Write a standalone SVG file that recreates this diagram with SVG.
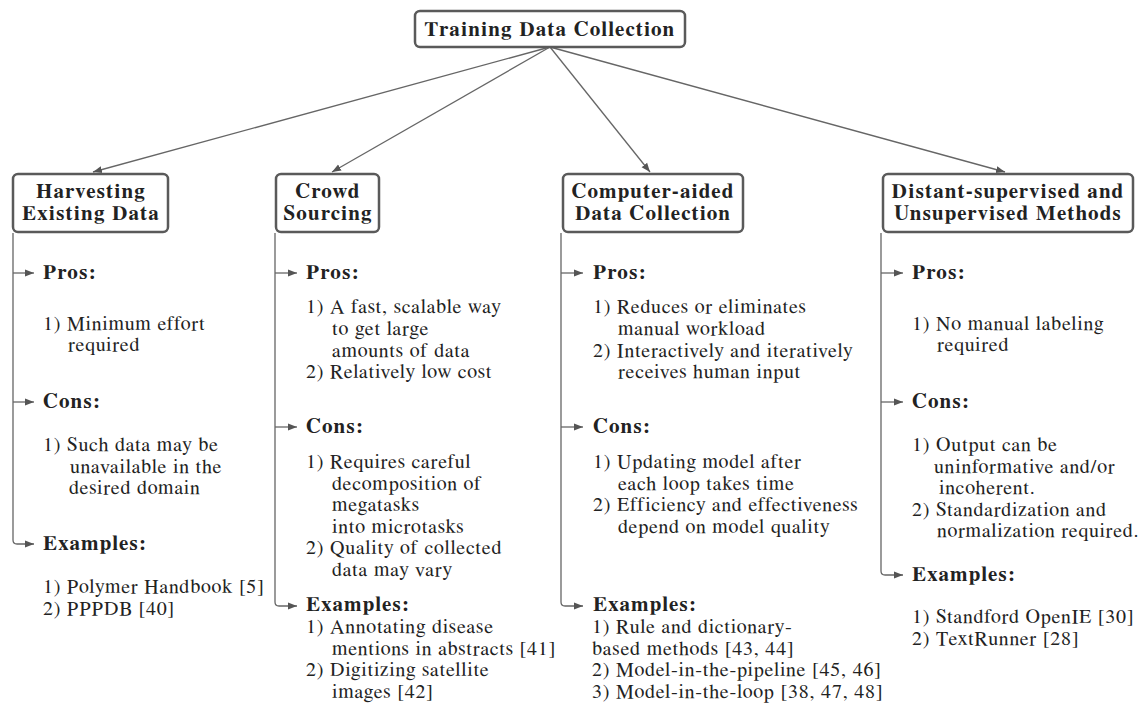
<svg xmlns="http://www.w3.org/2000/svg" width="1146" height="720" viewBox="0 0 1146 720">
<defs>
<style>
text{font-family:"FreeSerif","Nimbus Roman","Nimbus Roman No9 L","Liberation Serif",serif;fill:#222}
.box{fill:#fff;stroke:#5a5a5a;stroke-width:2.5}
.ttl{font-weight:bold;font-size:21px;letter-spacing:1.2px;text-anchor:middle}
.hd{font-weight:bold;font-size:21px;letter-spacing:1.2px}
.tx{font-size:20px;letter-spacing:0.8px}
.ln{fill:none;stroke:#666;stroke-width:1.3}
</style>
<marker id="ah" markerUnits="userSpaceOnUse" markerWidth="10" markerHeight="8" refX="9" refY="4" orient="auto">
<path d="M0,0.5 L9,4 L0,7.5 z" fill="#555"/>
</marker>
</defs>
<rect width="1146" height="720" fill="#fff"/>

<g id="connectors">
<line class="ln" x1="550" y1="47" x2="93" y2="172" marker-end="url(#ah)"/>
<line class="ln" x1="550" y1="47" x2="332" y2="172" marker-end="url(#ah)"/>
<line class="ln" x1="550" y1="47" x2="650" y2="172" marker-end="url(#ah)"/>
<line class="ln" x1="550" y1="47" x2="1005" y2="172" marker-end="url(#ah)"/>
<path class="ln" d="M13,233 V540 Q13,544 17,544 H34" marker-end="url(#ah)"/>
<line class="ln" x1="13" y1="273" x2="34" y2="273" marker-end="url(#ah)"/>
<line class="ln" x1="13" y1="402" x2="34" y2="402" marker-end="url(#ah)"/>
<path class="ln" d="M275,233 V602 Q275,606 279,606 H297" marker-end="url(#ah)"/>
<line class="ln" x1="275" y1="273" x2="297" y2="273" marker-end="url(#ah)"/>
<line class="ln" x1="275" y1="427" x2="297" y2="427" marker-end="url(#ah)"/>
<path class="ln" d="M561,233 V602 Q561,606 565,606 H583" marker-end="url(#ah)"/>
<line class="ln" x1="561" y1="273" x2="583" y2="273" marker-end="url(#ah)"/>
<line class="ln" x1="561" y1="427" x2="583" y2="427" marker-end="url(#ah)"/>
<path class="ln" d="M881,233 V571 Q881,575 885,575 H903" marker-end="url(#ah)"/>
<line class="ln" x1="881" y1="273" x2="903" y2="273" marker-end="url(#ah)"/>
<line class="ln" x1="881" y1="402" x2="903" y2="402" marker-end="url(#ah)"/>
</g>

<g id="root">
<rect class="box" x="415" y="11" width="270" height="36" rx="5"/>
<text class="ttl" x="550" y="36">Training Data Collection</text>
</g>

<g id="harvesting">
<rect class="box" x="13" y="174" width="155" height="58" rx="5"/>
<text class="ttl" x="91" y="198">Harvesting</text>
<text class="ttl" x="91" y="220">Existing Data</text>
<text class="hd" x="43" y="279">Pros:</text>
<text class="tx" x="43" y="330">1) Minimum effort</text>
<text class="tx" x="68" y="351">required</text>
<text class="hd" x="43" y="408">Cons:</text>
<text class="tx" x="43" y="451">1) Such data may be</text>
<text class="tx" x="70" y="473">unavailable in the</text>
<text class="tx" x="69" y="494">desired domain</text>
<text class="hd" x="43" y="550">Examples:</text>
<text class="tx" x="43" y="593">1) Polymer Handbook [5]</text>
<text class="tx" x="43" y="615">2) PPPDB [40]</text>
</g>

<g id="crowd">
<rect class="box" x="276" y="174" width="103" height="58" rx="5"/>
<text class="ttl" x="328" y="198">Crowd</text>
<text class="ttl" x="328" y="220">Sourcing</text>
<text class="hd" x="306" y="279">Pros:</text>
<text class="tx" x="306" y="313">1) A fast, scalable way</text>
<text class="tx" x="332" y="335">to get large</text>
<text class="tx" x="332" y="357">amounts of data</text>
<text class="tx" x="306" y="378">2) Relatively low cost</text>
<text class="hd" x="306" y="433">Cons:</text>
<text class="tx" x="306" y="468">1) Requires careful</text>
<text class="tx" x="332" y="490">decomposition of</text>
<text class="tx" x="332" y="511">megatasks</text>
<text class="tx" x="332" y="533">into microtasks</text>
<text class="tx" x="306" y="554">2) Quality of collected</text>
<text class="tx" x="332" y="576">data may vary</text>
<text class="hd" x="306" y="611">Examples:</text>
<text class="tx" x="306" y="633">1) Annotating disease</text>
<text class="tx" x="332" y="655">mentions in abstracts [41]</text>
<text class="tx" x="306" y="676">2) Digitizing satellite</text>
<text class="tx" x="332" y="698">images [42]</text>
</g>

<g id="computer">
<rect class="box" x="563" y="174" width="180" height="58" rx="5"/>
<text class="ttl" x="653" y="198">Computer-aided</text>
<text class="ttl" x="653" y="220">Data Collection</text>
<text class="hd" x="593" y="279">Pros:</text>
<text class="tx" x="593" y="313">1) Reduces or eliminates</text>
<text class="tx" x="618" y="335">manual workload</text>
<text class="tx" x="593" y="357">2) Interactively and iteratively</text>
<text class="tx" x="618" y="378">receives human input</text>
<text class="hd" x="593" y="433">Cons:</text>
<text class="tx" x="593" y="468">1) Updating model after</text>
<text class="tx" x="618" y="490">each loop takes time</text>
<text class="tx" x="593" y="511">2) Efficiency and effectiveness</text>
<text class="tx" x="618" y="533">depend on model quality</text>
<text class="hd" x="593" y="611">Examples:</text>
<text class="tx" x="592" y="633">1) Rule and dictionary-</text>
<text class="tx" x="592" y="655">based methods [43, 44]</text>
<text class="tx" x="592" y="676">2) Model-in-the-pipeline [45, 46]</text>
<text class="tx" x="592" y="698">3) Model-in-the-loop [38, 47, 48]</text>
</g>

<g id="distant">
<rect class="box" x="883" y="174" width="250" height="58" rx="5"/>
<text class="ttl" x="1008" y="198">Distant-supervised and</text>
<text class="ttl" x="1008" y="220">Unsupervised Methods</text>
<text class="hd" x="912" y="279">Pros:</text>
<text class="tx" x="912" y="330">1) No manual labeling</text>
<text class="tx" x="937" y="351">required</text>
<text class="hd" x="912" y="408">Cons:</text>
<text class="tx" x="912" y="451">1) Output can be</text>
<text class="tx" x="934" y="473">uninformative and/or</text>
<text class="tx" x="939" y="494">incoherent.</text>
<text class="tx" x="912" y="516">2) Standardization and</text>
<text class="tx" x="937" y="537">normalization required.</text>
<text class="hd" x="912" y="581">Examples:</text>
<text class="tx" x="912" y="623">1) Standford OpenIE [30]</text>
<text class="tx" x="912" y="645">2) TextRunner [28]</text>
</g>
</svg>
